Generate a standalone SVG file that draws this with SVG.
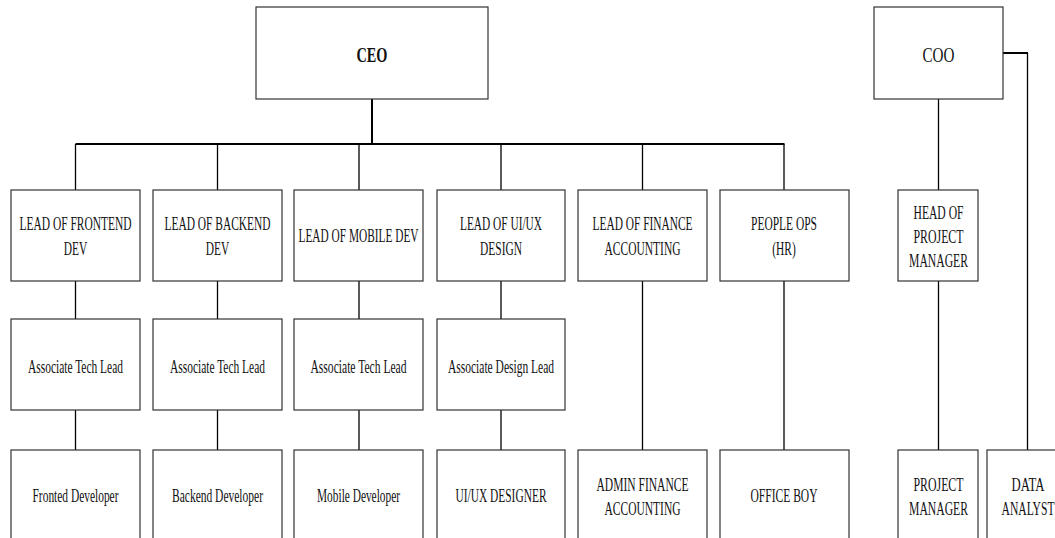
<svg xmlns="http://www.w3.org/2000/svg" width="1055" height="538" viewBox="0 0 1055 538">
<style>
.box{fill:#ffffff;stroke:#333333;stroke-width:1.2}
.t{font-family:"Liberation Serif","Times New Roman",serif;font-size:19px;fill:#111111;text-anchor:middle}
.b{font-weight:bold;font-size:22px}
.c{fill:none;stroke:#000000;stroke-width:1.3}
.k{fill:none;stroke:#000000;stroke-width:2}
</style>
<rect width="1055" height="538" fill="#ffffff"/>
<g id="connectors">
<line class="k" x1="372" y1="99" x2="372" y2="144"/>
<line class="k" x1="75.5" y1="144" x2="784.5" y2="144"/>
<line class="c" x1="75.5" y1="144" x2="75.5" y2="190"/>
<line class="c" x1="217.5" y1="144" x2="217.5" y2="190"/>
<line class="c" x1="359" y1="144" x2="359" y2="190"/>
<line class="c" x1="501" y1="144" x2="501" y2="190"/>
<line class="c" x1="642.5" y1="144" x2="642.5" y2="190"/>
<line class="c" x1="784" y1="144" x2="784" y2="190"/>
<line class="c" x1="75.5" y1="281" x2="75.5" y2="319"/>
<line class="c" x1="217.5" y1="281" x2="217.5" y2="319"/>
<line class="c" x1="359" y1="281" x2="359" y2="319"/>
<line class="c" x1="501" y1="281" x2="501" y2="319"/>
<line class="c" x1="75.5" y1="410" x2="75.5" y2="450"/>
<line class="c" x1="217.5" y1="410" x2="217.5" y2="450"/>
<line class="c" x1="359" y1="410" x2="359" y2="450"/>
<line class="c" x1="501" y1="410" x2="501" y2="450"/>
<line class="c" x1="642.5" y1="281" x2="642.5" y2="450"/>
<line class="c" x1="784" y1="281" x2="784" y2="450"/>
<line class="c" x1="938.5" y1="99" x2="938.5" y2="190"/>
<line class="c" x1="938.5" y1="281" x2="938.5" y2="450"/>
<line class="k" x1="1003" y1="53" x2="1028" y2="53"/>
<line class="c" x1="1027.5" y1="53" x2="1027.5" y2="450"/>
</g>
<g id="ceo"><rect class="box" x="256" y="7" width="232" height="92"/><text class="t b" x="372" y="61.5" textLength="31" lengthAdjust="spacingAndGlyphs">CEO</text></g>
<g id="coo"><rect class="box" x="874" y="7" width="129" height="92"/><text class="t" x="938.5" y="61.5" font-size="22" textLength="32" lengthAdjust="spacingAndGlyphs" style="font-size:22px">COO</text></g>
<g id="lead-frontend"><rect class="box" x="11" y="190" width="129" height="91"/><text class="t" x="75.5" y="230" textLength="112" lengthAdjust="spacingAndGlyphs">LEAD OF FRONTEND</text><text class="t" x="75.5" y="255" textLength="23.5" lengthAdjust="spacingAndGlyphs">DEV</text></g>
<g id="lead-backend"><rect class="box" x="153" y="190" width="129" height="91"/><text class="t" x="217.5" y="230" textLength="106" lengthAdjust="spacingAndGlyphs">LEAD OF BACKEND</text><text class="t" x="217.5" y="255" textLength="23.5" lengthAdjust="spacingAndGlyphs">DEV</text></g>
<g id="lead-mobile"><rect class="box" x="294" y="190" width="129" height="91"/><text class="t" x="358.5" y="242" textLength="120" lengthAdjust="spacingAndGlyphs">LEAD OF MOBILE DEV</text></g>
<g id="lead-uiux"><rect class="box" x="437" y="190" width="128" height="91"/><text class="t" x="501" y="230" textLength="82" lengthAdjust="spacingAndGlyphs">LEAD OF UI/UX</text><text class="t" x="501" y="255" textLength="42" lengthAdjust="spacingAndGlyphs">DESIGN</text></g>
<g id="lead-finance"><rect class="box" x="578" y="190" width="129" height="91"/><text class="t" x="642.5" y="230" textLength="100" lengthAdjust="spacingAndGlyphs">LEAD OF FINANCE</text><text class="t" x="642.5" y="255" textLength="76" lengthAdjust="spacingAndGlyphs">ACCOUNTING</text></g>
<g id="people-ops"><rect class="box" x="720" y="190" width="129" height="91"/><text class="t" x="784" y="230" textLength="66" lengthAdjust="spacingAndGlyphs">PEOPLE OPS</text><text class="t" x="784" y="255" textLength="23.5" lengthAdjust="spacingAndGlyphs">(HR)</text></g>
<g id="head-pm"><rect class="box" x="898" y="190" width="80" height="91"/><text class="t" x="938.5" y="219" textLength="50" lengthAdjust="spacingAndGlyphs">HEAD OF</text><text class="t" x="938.5" y="243" textLength="50" lengthAdjust="spacingAndGlyphs">PROJECT</text><text class="t" x="938.5" y="267" textLength="59" lengthAdjust="spacingAndGlyphs">MANAGER</text></g>
<g id="assoc-frontend"><rect class="box" x="11" y="319" width="129" height="91"/><text class="t" x="75.5" y="372.5" textLength="95" lengthAdjust="spacingAndGlyphs">Associate Tech Lead</text></g>
<g id="assoc-backend"><rect class="box" x="153" y="319" width="129" height="91"/><text class="t" x="217.5" y="372.5" textLength="95" lengthAdjust="spacingAndGlyphs">Associate Tech Lead</text></g>
<g id="assoc-mobile"><rect class="box" x="294" y="319" width="129" height="91"/><text class="t" x="358.5" y="372.5" textLength="96" lengthAdjust="spacingAndGlyphs">Associate Tech Lead</text></g>
<g id="assoc-design"><rect class="box" x="437" y="319" width="128" height="91"/><text class="t" x="501" y="372.5" textLength="106" lengthAdjust="spacingAndGlyphs">Associate Design Lead</text></g>
<g id="frontend-dev"><rect class="box" x="11" y="450" width="129" height="100"/><text class="t" x="75.5" y="502" textLength="86" lengthAdjust="spacingAndGlyphs">Fronted Developer</text></g>
<g id="backend-dev"><rect class="box" x="153" y="450" width="129" height="100"/><text class="t" x="217.5" y="502" textLength="91" lengthAdjust="spacingAndGlyphs">Backend Developer</text></g>
<g id="mobile-dev"><rect class="box" x="294" y="450" width="129" height="100"/><text class="t" x="358.5" y="502" textLength="83" lengthAdjust="spacingAndGlyphs">Mobile Developer</text></g>
<g id="uiux-designer"><rect class="box" x="437" y="450" width="128" height="100"/><text class="t" x="501" y="502" textLength="91" lengthAdjust="spacingAndGlyphs">UI/UX DESIGNER</text></g>
<g id="admin-finance"><rect class="box" x="578" y="450" width="129" height="100"/><text class="t" x="642.5" y="491" textLength="92" lengthAdjust="spacingAndGlyphs">ADMIN FINANCE</text><text class="t" x="642.5" y="515" textLength="76" lengthAdjust="spacingAndGlyphs">ACCOUNTING</text></g>
<g id="office-boy"><rect class="box" x="720" y="450" width="129" height="100"/><text class="t" x="784" y="502" textLength="67" lengthAdjust="spacingAndGlyphs">OFFICE BOY</text></g>
<g id="project-manager"><rect class="box" x="898" y="450" width="80" height="100"/><text class="t" x="938.5" y="491" textLength="50" lengthAdjust="spacingAndGlyphs">PROJECT</text><text class="t" x="938.5" y="515" textLength="59" lengthAdjust="spacingAndGlyphs">MANAGER</text></g>
<g id="data-analyst"><rect class="box" x="987" y="450" width="80" height="100"/><text class="t" x="1028" y="491" textLength="33" lengthAdjust="spacingAndGlyphs">DATA</text><text class="t" x="1028" y="515" textLength="53" lengthAdjust="spacingAndGlyphs">ANALYST</text></g>
</svg>
